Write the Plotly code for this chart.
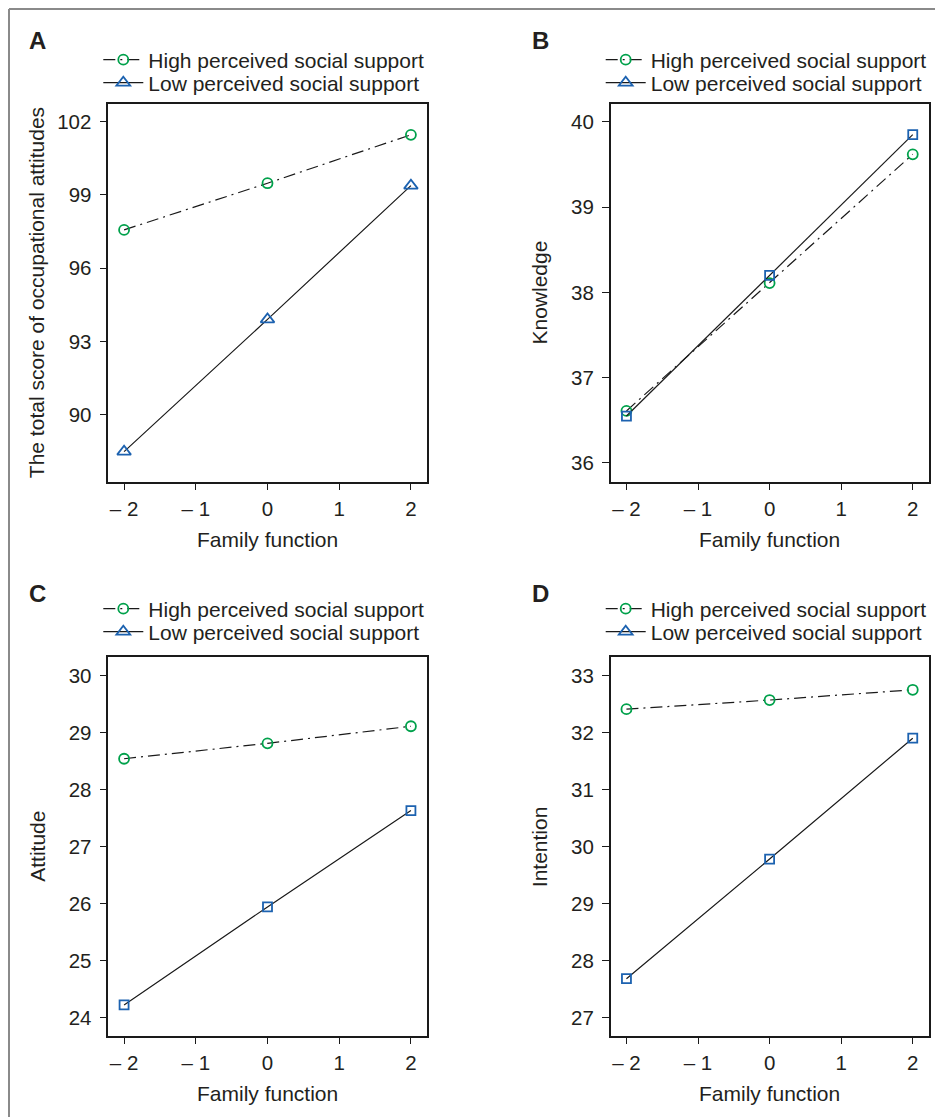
import plotly.graph_objects as go

# ---------------- data ----------------
family_function = [-2, 0, 2]
x_tick_vals = [-2, -1, 0, 1, 2]
x_tick_text = ["– 2", "– 1", "0", "1", "2"]

high_A = [97.57, 99.48, 101.46]
low_A = [88.50, 93.91, 99.38]
high_B = [36.61, 38.11, 39.62]
low_B = [36.55, 38.20, 39.85]
high_C = [28.54, 28.81, 29.11]
low_C = [24.22, 25.94, 27.63]
high_D = [32.41, 32.57, 32.75]
low_D = [27.68, 29.78, 31.90]

y_ticks_A = [90, 93, 96, 99, 102]
y_ticks_B = [36, 37, 38, 39, 40]
y_ticks_C = [24, 25, 26, 27, 28, 29, 30]
y_ticks_D = [27, 28, 29, 30, 31, 32, 33]

panel_letters = ["A", "B", "C", "D"]
y_titles = ["The total score of occupational attitudes", "Knowledge", "Attitude", "Intention"]
x_title = "Family function"
legend_names = ["High perceived social support", "Low perceived social support"]

# ---------------- style ----------------
W, H = 935, 1117
FONT = "Liberation Sans, Arial, Helvetica, sans-serif"
TXT = "#231f20"
GREEN = "#00a14b"
BLUE = "#1c62b0"
LINE = "#1a1a1a"
DASHDOT = "12px,5px,2px,5px"

def px_x(p):
    return p / W

def px_y(p):
    return 1 - p / H

# plot area boxes in pixels (left, right, top, bottom)
boxes = [
    (108.3, 426.7, 104.0, 481.7),
    (610.7, 928.5, 104.0, 481.7),
    (108.3, 426.7, 657.3, 1035.7),
    (610.7, 928.5, 657.3, 1035.7),
]
legend_rows = [(60, 83), (60, 83), (609, 632), (609, 632)]
y_ranges = [[87.27, 102.72], [35.78, 40.21], [23.68, 30.32], [26.68, 33.32]]
highs = [high_A, high_B, high_C, high_D]
lows = [low_A, low_B, low_C, low_D]
y_ticks = [y_ticks_A, y_ticks_B, y_ticks_C, y_ticks_D]
low_symbols = ["triangle-up-open", "square-open", "square-open", "square-open"]

fig = go.Figure()
layout = dict(
    width=W, height=H,
    margin=dict(l=0, r=0, t=0, b=0),
    paper_bgcolor="white", plot_bgcolor="white",
    font=dict(family=FONT, color=TXT, size=20),
    showlegend=True,
)
annotations = []
shapes = []

def legend_name(k):
    return "legend" if k == 1 else "legend%d" % k

for i in range(4):
    n = "" if i == 0 else str(i + 1)
    xa, ya = "x" + n, "y" + n
    leg_hi = legend_name(2 * i + 1)
    leg_lo = legend_name(2 * i + 2)
    l, r, t, b = boxes[i]

    # high support
    fig.add_trace(go.Scatter(
        x=family_function, y=highs[i], xaxis=xa, yaxis=ya,
        mode="lines+markers", name=legend_names[0], legend=leg_hi,
        line=dict(color=LINE, width=1.2, dash=DASHDOT),
        marker=dict(symbol="circle-open", size=10, color=GREEN, line=dict(width=1.8, color=GREEN)),
        cliponaxis=False,
    ))
    # low support
    if low_symbols[i] == "triangle-up-open":
        fig.add_trace(go.Scatter(
            x=family_function, y=lows[i], xaxis=xa, yaxis=ya,
            mode="lines+markers", name=legend_names[1], legend=leg_lo,
            line=dict(color=LINE, width=1.2),
            marker=dict(symbol="triangle-up-open", size=12, color=BLUE, line=dict(width=1.8, color=BLUE)),
            cliponaxis=False,
        ))
    else:
        fig.add_trace(go.Scatter(
            x=family_function, y=lows[i], xaxis=xa, yaxis=ya,
            mode="lines+markers", name=legend_names[1], showlegend=False,
            line=dict(color=LINE, width=1.2),
            marker=dict(symbol="square-open", size=9, color=BLUE, line=dict(width=1.8, color=BLUE)),
            cliponaxis=False,
        ))
        # legend entry (the published legend shows a triangle)
        fig.add_trace(go.Scatter(
            x=[None], y=[None], xaxis=xa, yaxis=ya,
            mode="lines+markers", name=legend_names[1], legend=leg_lo,
            line=dict(color=LINE, width=1.2),
            marker=dict(symbol="triangle-up-open", size=12, color=BLUE, line=dict(width=1.8, color=BLUE)),
        ))

    axis_common = dict(
        showline=True, mirror=True, linecolor=LINE, linewidth=1.5,
        ticks="outside", ticklen=7, tickwidth=1.2, tickcolor=LINE,
        showgrid=False, zeroline=False,
        tickfont=dict(size=20.5, color=TXT, family=FONT),
    )
    layout["xaxis" + n] = dict(
        axis_common, domain=[px_x(l), px_x(r)], range=[-2.22, 2.22],
        tickvals=x_tick_vals, ticktext=x_tick_text, anchor=ya,
        ticklabelstandoff=1,
    )
    layout["yaxis" + n] = dict(
        axis_common, domain=[px_y(b), px_y(t)], range=y_ranges[i],
        tickvals=y_ticks[i], anchor=xa, ticklabelstandoff=4,
    )
    for leg, row in ((leg_hi, legend_rows[i][0]), (leg_lo, legend_rows[i][1])):
        layout[leg] = dict(
            x=px_x(l - 10), y=px_y(row), xanchor="left", yanchor="middle",
            bgcolor="rgba(0,0,0,0)", borderwidth=0, tracegroupgap=0,
            font=dict(size=21, color=TXT, family=FONT), itemwidth=40,
        )

    # panel letter
    annotations.append(dict(
        text="<b>%s</b>" % panel_letters[i], xref="paper", yref="paper",
        x=px_x(l - 81), y=px_y(t - 64), xanchor="left", yanchor="middle",
        showarrow=False, font=dict(size=24, color=TXT, family=FONT),
    ))
    # x title
    annotations.append(dict(
        text=x_title, xref="paper", yref="paper",
        x=px_x((l + r) / 2), y=px_y(b + 58), xanchor="center", yanchor="middle",
        showarrow=False, font=dict(size=21, color=TXT, family=FONT),
    ))
    # y title
    annotations.append(dict(
        text=y_titles[i], xref="paper", yref="paper", textangle=-90,
        x=px_x(l - 71), y=px_y((t + b) / 2), xanchor="center", yanchor="middle",
        showarrow=False, font=dict(size=21, color=TXT, family=FONT),
    ))

# outer frame (top and left edges)
shapes.append(dict(type="line", xref="paper", yref="paper",
                   x0=px_x(9), x1=1, y0=px_y(9), y1=px_y(9),
                   line=dict(color="#8a8a8a", width=2)))
shapes.append(dict(type="line", xref="paper", yref="paper",
                   x0=px_x(9), x1=px_x(9), y0=px_y(9), y1=0,
                   line=dict(color="#8a8a8a", width=2)))

layout["annotations"] = annotations
layout["shapes"] = shapes
fig.update_layout(**layout)
fig.write_html(
    "out.html",
    config={"displayModeBar": False},
    post_script="document.body.style.margin='0';document.body.style.overflow='hidden';",
)
